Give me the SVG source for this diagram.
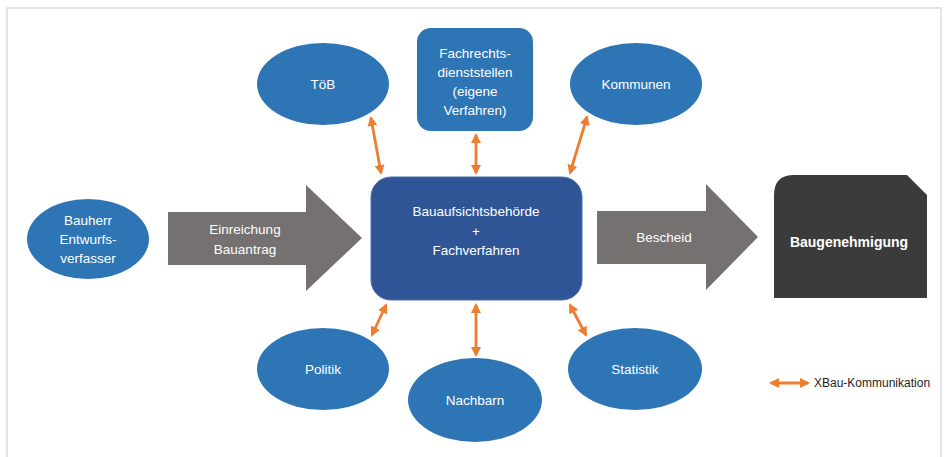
<svg xmlns="http://www.w3.org/2000/svg" width="949" height="457" viewBox="0 0 949 457">
<defs>
<style>
.bg{fill:#ffffff}
.frame{fill:none;stroke:#dcdcdc;stroke-width:1.5}
.node{fill:#2e75b6}
.main{fill:#2f5597;stroke:#4a6fb0;stroke-width:1}
.garrow{fill:#767171}
.dark{fill:#3b3b3b}
.t{font-family:"Liberation Sans",Arial,sans-serif;font-size:13.5px;fill:#ffffff;text-anchor:middle;dominant-baseline:central}
.tb{font-weight:bold;font-size:14px}
.leg{font-family:"Liberation Sans",Arial,sans-serif;font-size:12px;fill:#222222;dominant-baseline:central}
.conn{stroke:#ed7d31;stroke-width:2.8;fill:none;marker-start:url(#ah);marker-end:url(#ah)}
</style>
<marker id="ah" viewBox="0 0 10 10" refX="8" refY="5" markerWidth="10" markerHeight="10" markerUnits="userSpaceOnUse" orient="auto-start-reverse">
<path d="M0,0 L10,5 L0,10 z" fill="#ed7d31"/>
</marker>
</defs>
<rect class="bg" x="0" y="0" width="949" height="457"/>
<rect class="frame" x="7" y="8" width="934" height="470"/>

<g id="connectors">
<line class="conn" x1="371" y1="118" x2="381" y2="173"/>
<line class="conn" x1="476" y1="135" x2="476" y2="173"/>
<line class="conn" x1="587" y1="117" x2="570" y2="173"/>
<line class="conn" x1="386" y1="305" x2="372" y2="335"/>
<line class="conn" x1="476" y1="305" x2="476" y2="355"/>
<line class="conn" x1="570" y1="305" x2="586" y2="335"/>
</g>

<g id="toeb">
<ellipse class="node" cx="323" cy="84" rx="66" ry="41"/>
<text class="t" x="323" y="84">TöB</text>
</g>

<g id="fachrechtsdienststellen">
<rect class="node" x="417" y="28" width="116" height="103" rx="14"/>
<text class="t" x="475" y="53">Fachrechts-</text>
<text class="t" x="475" y="72">dienststellen</text>
<text class="t" x="475" y="91">(eigene</text>
<text class="t" x="475" y="110">Verfahren)</text>
</g>

<g id="kommunen">
<ellipse class="node" cx="636" cy="84" rx="66" ry="41"/>
<text class="t" x="636" y="84">Kommunen</text>
</g>

<g id="bauherr">
<ellipse class="node" cx="88" cy="239" rx="61" ry="40"/>
<text class="t" x="88" y="220">Bauherr</text>
<text class="t" x="88" y="239">Entwurfs-</text>
<text class="t" x="88" y="258">verfasser</text>
</g>

<g id="einreichung">
<path class="garrow" d="M168,212 L306,212 L306,185 L362,238 L306,291 L306,265 L168,265 z"/>
<text class="t" x="245" y="229">Einreichung</text>
<text class="t" x="245" y="249">Bauantrag</text>
</g>

<g id="bauaufsicht">
<rect class="main" x="371" y="177" width="211" height="123" rx="20"/>
<text class="t" x="476" y="211">Bauaufsichtsbehörde</text>
<text class="t" x="476" y="231">+</text>
<text class="t" x="476" y="250">Fachverfahren</text>
</g>

<g id="bescheid">
<path class="garrow" d="M597,211 L706,211 L706,184 L758,237 L706,290 L706,264 L597,264 z"/>
<text class="t" x="664" y="237">Bescheid</text>
</g>

<g id="baugenehmigung">
<path class="dark" d="M794,175 L907,175 L927,195 L927,298 L774,298 L774,195 Q774,175 794,175 z"/>
<text class="t tb" x="849" y="242">Baugenehmigung</text>
</g>

<g id="politik">
<ellipse class="node" cx="323" cy="369" rx="66" ry="41"/>
<text class="t" x="323" y="369">Politik</text>
</g>

<g id="nachbarn">
<ellipse class="node" cx="475" cy="400" rx="67" ry="42"/>
<text class="t" x="475" y="400">Nachbarn</text>
</g>

<g id="statistik">
<ellipse class="node" cx="635" cy="369" rx="67" ry="41"/>
<text class="t" x="635" y="369">Statistik</text>
</g>

<g id="legend">
<line class="conn" x1="771" y1="383" x2="808" y2="383"/>
<text class="leg" x="814" y="383">XBau-Kommunikation</text>
</g>
</svg>
